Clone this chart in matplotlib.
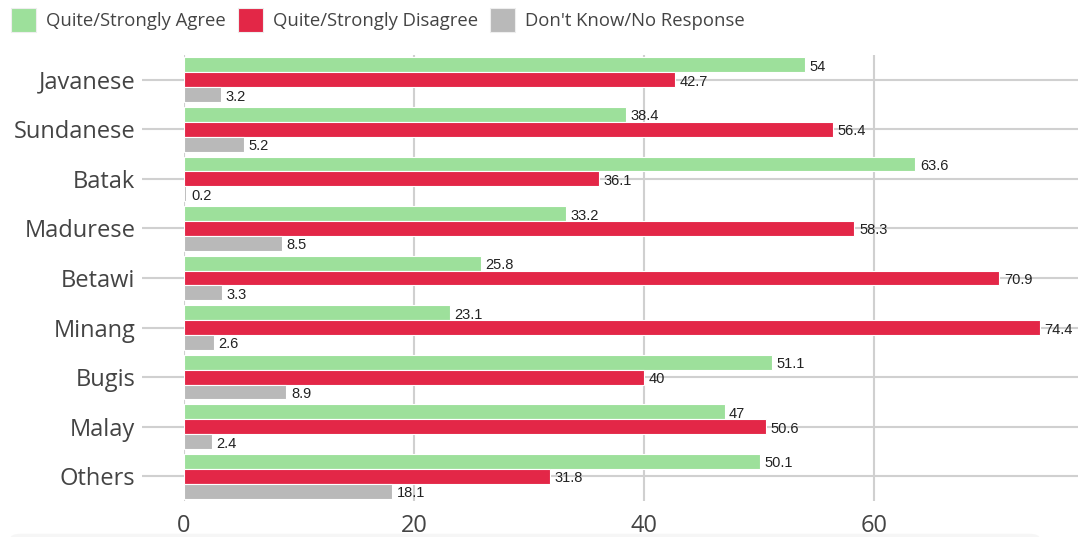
import numpy as np
import matplotlib
matplotlib.use("Agg")
import matplotlib.pyplot as plt
from matplotlib.patches import FancyBboxPatch

categories = ["Javanese", "Sundanese", "Batak", "Madurese", "Betawi",
              "Minang", "Bugis", "Malay", "Others"]
agree = [54, 38.4, 63.6, 33.2, 25.8, 23.1, 51.1, 47, 50.1]
disagree = [42.7, 56.4, 36.1, 58.3, 70.9, 74.4, 40, 50.6, 31.8]
dont_know = [3.2, 5.2, 0.2, 8.5, 3.3, 2.6, 8.9, 2.4, 18.1]
series_names = ["Quite/Strongly Agree", "Quite/Strongly Disagree",
                "Don't Know/No Response"]
x_ticks = [0, 20, 40, 60]

colors = ["#9de09b", "#e32747", "#b9b9b9"]

W, H = 1078, 537
fig = plt.figure(figsize=(W / 100, H / 100), dpi=100)
ax = fig.add_axes([184 / W, 36 / H, 1 - 184 / W, (501 - 55) / H])

y = np.arange(len(categories))
bh = 0.3
series = [agree, disagree, dont_know]
offsets = [-bh, 0, bh]
for vals, off, col, name in zip(series, offsets, colors, series_names):
    bars = ax.barh(y + off, vals, height=bh, color=col, edgecolor="white",
                   linewidth=0.8, label=name, zorder=3)
    for b, v in zip(bars, vals):
        ax.text(b.get_width() + 0.4, b.get_y() + b.get_height() / 2 + 0.04,
                f"{v:g}", va="center", ha="left", fontsize=10.5,
                family="Liberation Sans", color="#222222", zorder=4)

ax.set_ylim(len(categories) - 0.5, -0.5)
ax.set_xlim(0, (W - 184) / 11.5)
ax.set_yticks(y)
ax.set_yticklabels(categories, family="Open Sans", fontsize=17, color="#444444")
ax.set_xticks(x_ticks)
ax.set_xticklabels([str(t) for t in x_ticks], family="Open Sans",
                   fontsize=17, color="#444444")
ax.tick_params(axis="y", length=30, width=1.5, color="#d0d0d0", pad=5)
ax.tick_params(axis="x", length=0, pad=9)
ax.grid(True, color="#d0d0d0", linewidth=1.5, zorder=0)
for s in ax.spines.values():
    s.set_visible(False)

# faint footer band beneath the axis
band = FancyBboxPatch((10 / W, -0.02), 1030 / W, 14 / H,
                      boxstyle="round,pad=0,rounding_size=0.01",
                      transform=fig.transFigure, facecolor="#f6f6f6",
                      edgecolor="none", zorder=-1)
fig.patches.append(band)

leg = fig.legend(loc="upper left", bbox_to_anchor=(11 / W, 1 - 8 / H), ncol=3,
                 frameon=False, prop={"family": "Open Sans", "size": 13.3},
                 handlelength=1.35, handleheight=1.6, handletextpad=0.55,
                 columnspacing=0.65, borderpad=0, borderaxespad=0)
for t in leg.get_texts():
    t.set_color("#444444")
for h in leg.legend_handles:
    h.set_edgecolor("#eeeeee")

fig.savefig("out.png", dpi=100)
